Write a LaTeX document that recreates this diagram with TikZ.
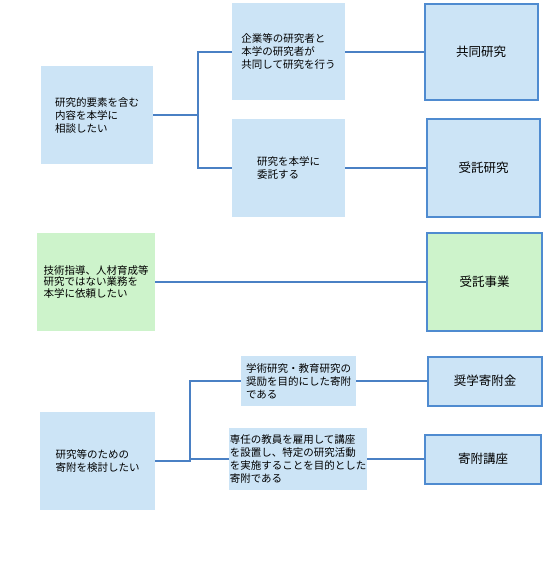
\documentclass[tikz,border=0pt]{standalone}
\usepackage{fontspec}
\setmainfont{Noto Sans CJK JP}
\usepackage{tikz}
\usetikzlibrary{positioning}
\definecolor{celeste}{HTML}{CCE4F6}
\definecolor{verde}{HTML}{CDF3CB}
\definecolor{borde}{HTML}{4F8BD0}
\definecolor{linea}{HTML}{4A80C4}

\begin{document}
\begin{tikzpicture}[x=1pt,y=-1pt,
		pregunta/.style={rectangle,fill=celeste,align=left,inner sep=1pt,font=\fontsize{10.5}{13}\selectfont},
		resultado/.style={rectangle,draw=borde,line width=2pt,fill=celeste,minimum width=113pt,font=\fontsize{12.5}{14}\selectfont},
		rama/.style={draw=linea,line width=1.5pt}]
				\useasboundingbox (0,0) rectangle (550,575);
				\path 
				(97,115) node(a) [pregunta,minimum width=112pt,minimum height=98pt] {研究的要素を含む\\内容を本学に\\相談したい}
				(288.5,52) node(b) [pregunta,minimum width=113pt,minimum height=97pt] {企業等の研究者と\\本学の研究者が\\共同して研究を行う}
				(288.5,168) node(c) [pregunta,minimum width=113pt,minimum height=97pt] {研究を本学に\\委託する}
				(481,52) node(d) [resultado,minimum height=96pt] {共同研究}
				(483.5,168) node(e) [resultado,minimum height=97pt] {受託研究}
				(96,282) node(f) [pregunta,fill=verde,minimum width=118pt,minimum height=98pt,font=\fontsize{10.5}{11.5}\selectfont] {技術指導、人材育成等\\研究ではない業務を\\本学に依頼したい}
				(484.5,282) node(g) [resultado,fill=verde,minimum width=115pt,minimum height=98pt] {受託事業}
				(97.5,461) node(h) [pregunta,minimum width=115pt,minimum height=98pt] {研究等のための\\寄附を検討したい}
				(298.5,381) node(i) [pregunta,minimum width=115pt,minimum height=50pt] {学術研究・教育研究の\\奨励を目的にした寄附\\である}
				(298,459) node(j) [pregunta,minimum width=138pt,minimum height=62pt] {専任の教員を雇用して講座\\を設置し、特定の研究活動\\を実施することを目的とした\\寄附である}
				(485,381) node(k) [resultado,minimum width=114pt,minimum height=49pt] {奨学寄附金}
				(483,459) node(l) [resultado,minimum width=116pt,minimum height=49pt] {寄附講座};
				\coordinate (p1) at (198,115);
				\coordinate (p2) at (190,461);
				\draw[rama] (a) -- (p1) |- (b);
				\draw[rama] (p1) |- (c);
				\draw[rama]
				(b) edge (d)
				(c) edge (e)
				(f) edge (g)
				(i) edge (k)
				(j) edge (l);
				\draw[rama] (h) -- (p2) |- (i);
				\draw[rama] (p2) |- (j);
			\end{tikzpicture}
\end{document}
